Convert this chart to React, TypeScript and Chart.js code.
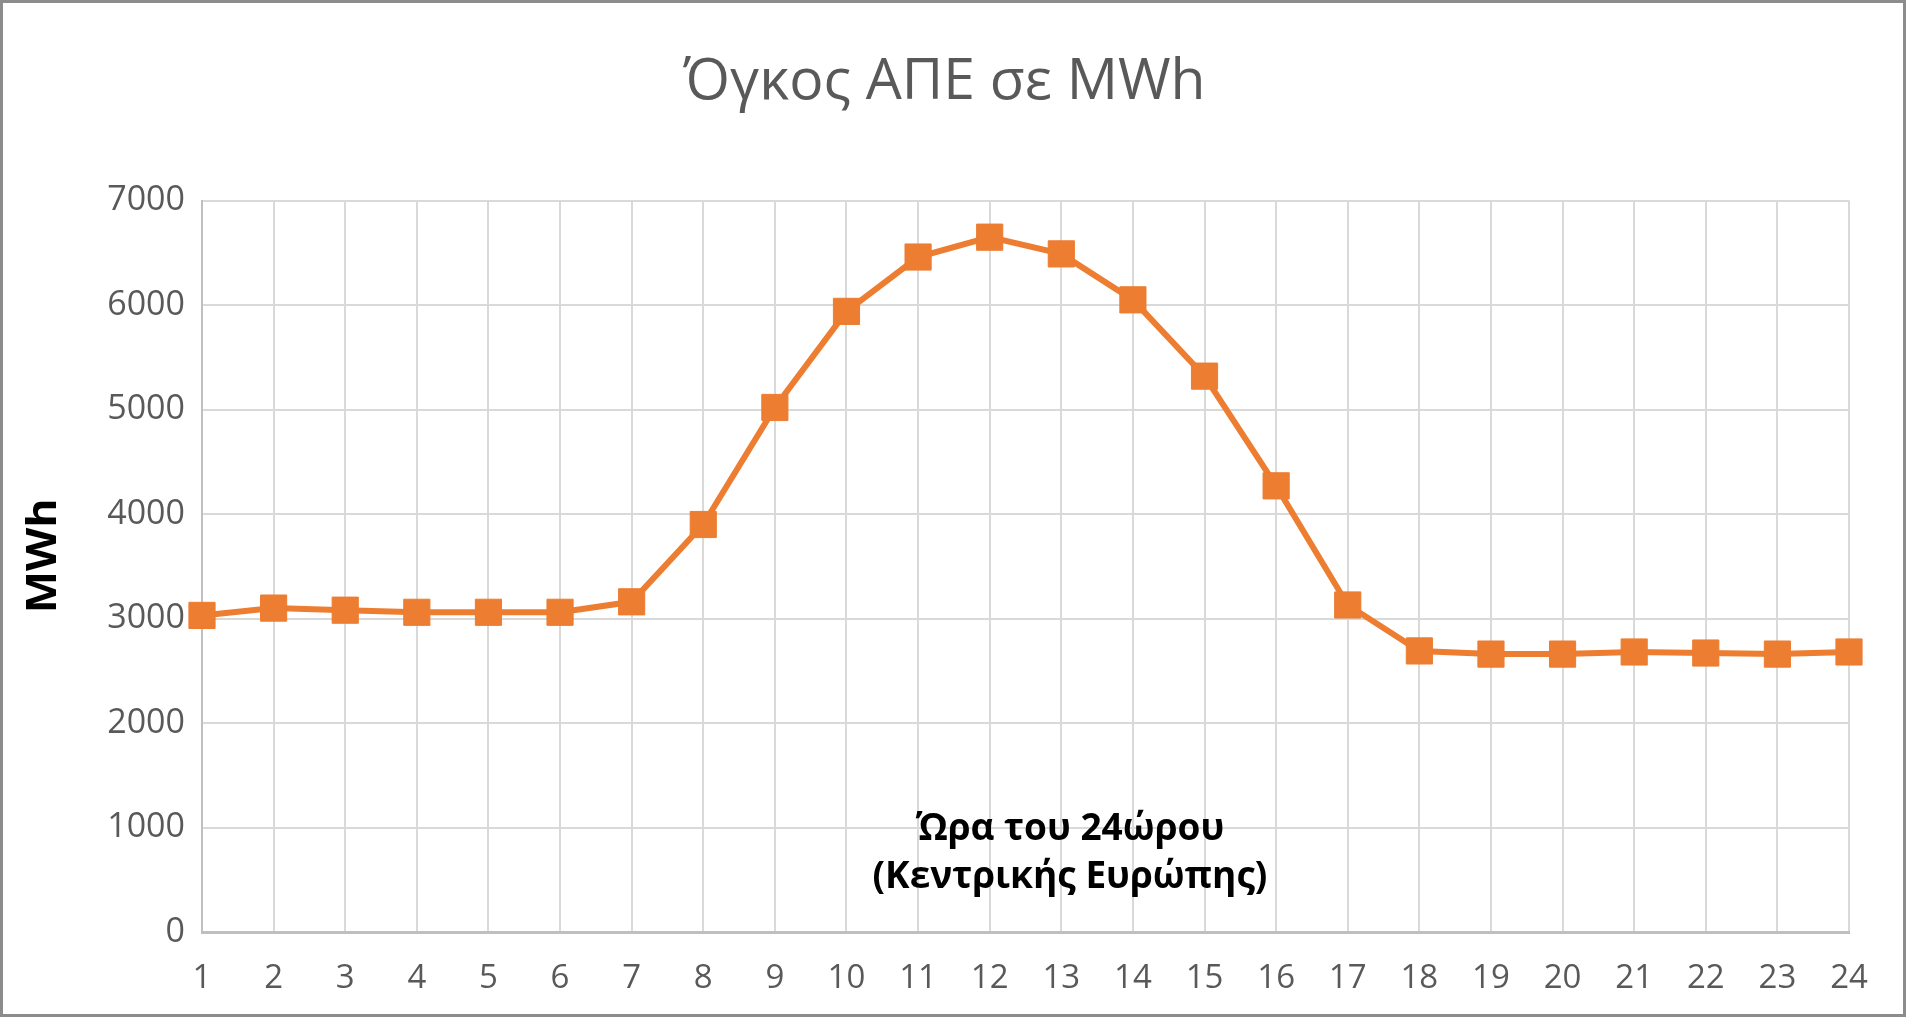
import React, { useEffect, useRef } from "react";
import { Chart, registerables } from "chart.js";

Chart.register(...registerables);

const hours: string[] = ["1","2","3","4","5","6","7","8","9","10","11","12","13","14","15","16","17","18","19","20","21","22","23","24"];
const resVolume: number[] = [3030, 3100, 3080, 3060, 3060, 3060, 3160, 3900, 5020, 5940, 6460, 6650, 6490, 6050, 5320, 4270, 3130, 2690, 2660, 2660, 2680, 2670, 2660, 2680];
const chartTitle = "Όγκος ΑΠΕ σε MWh";
const yAxisTitle = "MWh";
const xAxisTitleLines: string[] = ["Ώρα του 24ώρου", "(Κεντρικής Ευρώπης)"];
const yMin = 0;
const yMax = 7000;
const yStep = 1000;

const FONT = "'Open Sans', 'Noto Sans', sans-serif";

const framePlugin = {
  id: "frame",
  afterDraw(chart: any) {
    const ctx = chart.ctx;
    ctx.save();
    ctx.strokeStyle = "#8c8c8c";
    ctx.lineWidth = 3;
    ctx.strokeRect(1.5, 1.5, chart.width - 3, chart.height - 3);
    ctx.restore();
  },
};

const textPlugin = {
  id: "axisTexts",
  afterDatasetsDraw(chart: any) {
    const { ctx, chartArea, scales } = chart;

    // chart title
    ctx.save();
    ctx.fillStyle = "#595959";
    ctx.font = `57px ${FONT}`;
    ctx.textAlign = "center";
    ctx.textBaseline = "middle";
    ctx.fillText(chartTitle, chart.width * 0.4955, 83);
    ctx.restore();

    // x-axis title, placed inside the plot
    const x = chartArea.left + (chartArea.right - chartArea.left) * 0.527;
    const y1 = scales.y.getPixelForValue(980);
    const y2 = scales.y.getPixelForValue(520);
    ctx.save();
    ctx.fillStyle = "#000000";
    ctx.font = `bold 37px ${FONT}`;
    ctx.textAlign = "center";
    ctx.textBaseline = "middle";
    ctx.fillText(xAxisTitleLines[0], x, y1);
    ctx.fillText(xAxisTitleLines[1], x, y2);
    ctx.restore();

    // y-axis title, rotated and stretched along its reading direction
    ctx.save();
    ctx.font = `bold 42px ${FONT}`;
    const w = ctx.measureText(yAxisTitle).width;
    const stretch = 115 / w;
    ctx.translate(44, scales.y.getPixelForValue(3600));
    ctx.rotate(-Math.PI / 2);
    ctx.scale(stretch, 1);
    ctx.fillStyle = "#000000";
    ctx.textAlign = "center";
    ctx.textBaseline = "middle";
    ctx.fillText(yAxisTitle, 0, 0);
    ctx.restore();
  },
};

export default function App() {
  const ref = useRef<HTMLCanvasElement | null>(null);
  useEffect(() => {
    if (!ref.current) return;
    const chart = new Chart(ref.current, {
      type: "line",
      data: {
        labels: hours,
        datasets: [
          {
            data: resVolume,
            borderColor: "#ED7D31",
            backgroundColor: "#ED7D31",
            borderWidth: 6,
            pointStyle: "rect",
            pointRadius: 18.5,
            pointBorderWidth: 1,
            pointBackgroundColor: "#ED7D31",
            pointBorderColor: "#ED7D31",
            tension: 0,
          },
        ],
      },
      options: {
        animation: false,
        responsive: true,
        maintainAspectRatio: false,
        layout: { padding: { left: 0, right: 57, top: 200.6, bottom: 0 } },
        plugins: {
          legend: { display: false },
          tooltip: { enabled: false },
          title: { display: false },
        },
        scales: {
          x: {
            type: "category",
            offset: false,
            grid: { color: "#d9d9d9", lineWidth: 2, drawTicks: false },
            border: { color: "#bfbfbf", width: 3 },
            ticks: {
              color: "#595959",
              font: { family: FONT, size: 33 },
              padding: 27,
              maxRotation: 0,
              autoSkip: false,
            },
            afterFit(scale: any) {
              scale.height = 85;
            },
          },
          y: {
            min: yMin,
            max: yMax,
            grid: { color: "#d9d9d9", lineWidth: 2, drawTicks: false },
            border: { color: "#bfbfbf", width: 2 },
            ticks: {
              stepSize: yStep,
              color: "#595959",
              font: { family: FONT, size: 34 },
              padding: 17,
              callback: (v: any) => String(v),
            },
            afterFit(scale: any) {
              scale.width = 202;
            },
          },
        },
      },
      plugins: [textPlugin, framePlugin],
    });
    return () => chart.destroy();
  }, []);
  return (
    <div style={{ position: "absolute", left: 0, top: 0, width: 1906, height: 1017, background: "#ffffff" }}>
      <canvas ref={ref} />
    </div>
  );
}
